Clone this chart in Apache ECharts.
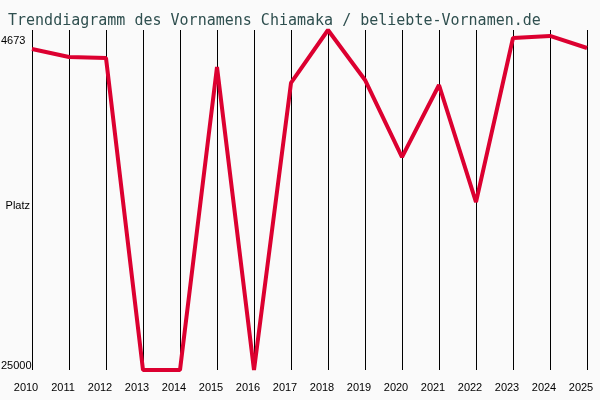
<!DOCTYPE html>
<html>
<head>
<meta charset="utf-8">
<script src="https://cdn.jsdelivr.net/npm/echarts@6/dist/echarts.min.js"></script>
<style>
  html, body { margin: 0; padding: 0; background: #fafafa; }
  #chart { width: 600px; height: 400px; }
</style>
</head>
<body>
<div id="chart"></div>
<script>
const years = ['2010', '2011', '2012', '2013', '2014', '2015', '2016', '2017',
               '2018', '2019', '2020', '2021', '2022', '2023', '2024', '2025'];
const ranks = [5810, 6290, 6350, 25000, 25000, 6880, 25000, 7840,
               4673, 7660, 12270, 7960, 14960, 5150, 5030, 5750];
const rankTicks = [4673, 25000];

const chart = echarts.init(document.getElementById('chart'));

chart.setOption({
    backgroundColor: '#fafafa',
    animation: false,
    title: {
        text: 'Trenddiagramm des Vornamens Chiamaka / beliebte-Vornamen.de',
        left: 3,
        top: 9,
        textStyle: {
            fontFamily: 'DejaVu Sans Mono',
            fontSize: 15,
            fontWeight: 'normal',
            color: '#2f4f4f'
        }
    },
    grid: {
        left: 32,
        right: 13,
        top: 30,
        bottom: 30,
        outerBoundsMode: 'none'
    },
    xAxis: {
        type: 'category',
        data: years,
        boundaryGap: false,
        axisLine: { show: false },
        axisTick: { show: false },
        axisLabel: {
            color: '#000',
            fontFamily: 'Liberation Sans',
            fontSize: 11,
            margin: 12,
            padding: [0, 12, 0, 0],
            interval: 0
        },
        splitLine: {
            show: true,
            interval: 0,
            lineStyle: { color: '#000', width: 1 }
        }
    },
    yAxis: {
        type: 'value',
        inverse: true,
        min: 4673,
        max: 25000,
        name: 'Platz',
        nameLocation: 'middle',
        nameRotate: 0,
        nameGap: 2,
        nameMoveOverlap: false,
        nameTextStyle: {
            color: '#000',
            fontFamily: 'Liberation Sans',
            fontSize: 11,
            align: 'right',
            verticalAlign: 'top'
        },
        axisLine: { show: false },
        axisTick: { show: false },
        splitLine: { show: false },
        axisLabel: {
            customValues: rankTicks,
            color: '#000',
            fontFamily: 'Liberation Sans',
            fontSize: 11,
            margin: 31,
            align: 'left',
            formatter: v => v === rankTicks[0] ? '{a|' + v + '}' : '{b|' + v + '}',
            rich: {
                a: { padding: [22, 0, 0, 0], fontSize: 11, fontFamily: 'Liberation Sans', color: '#000' },
                b: { padding: [0, 0, 8, 0], fontSize: 11, fontFamily: 'Liberation Sans', color: '#000' }
            }
        }
    },
    series: [{
        type: 'line',
        data: ranks,
        symbol: 'none',
        lineStyle: { color: '#dc0030', width: 4 },
        itemStyle: { color: '#dc0030' }
    }]
});
</script>
</body>
</html>
